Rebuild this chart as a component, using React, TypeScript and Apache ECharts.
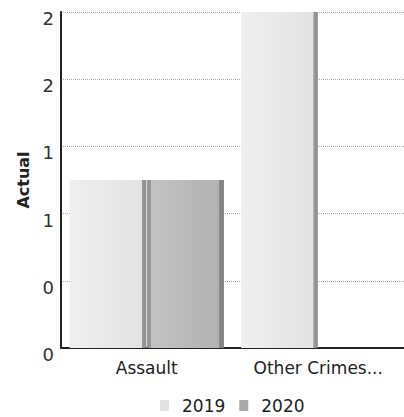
import React, { useEffect, useRef } from "react";
import * as echarts from "echarts";

const categories = ["Assault", "Other Crimes..."];
const series2019 = [1, 2];
const series2020 = [1, 0];
const yTicks = [0, 0.4, 0.8, 1.2, 1.6, 2.0];

type Stop = { offset: number; color: string };
function grad(stops: Stop[]) {
  return new echarts.graphic.LinearGradient(0, 0, 1, 0, stops);
}

export default function App() {
  const ref = useRef<HTMLDivElement>(null);
  useEffect(() => {
    if (!ref.current) return;
    const chart = echarts.init(ref.current, undefined, { renderer: "svg" });
    const font = "DejaVu Sans";
    chart.setOption({
      animation: false,
      backgroundColor: "#ffffff",
      textStyle: { fontFamily: font },
      grid: { left: 61, right: 0, top: 12, bottom: 69 },
      legend: {
        top: 392,
        left: 155,
        itemWidth: 9,
        itemHeight: 11,
        itemGap: 14,
        icon: "rect",
        textStyle: { fontFamily: font, fontSize: 17, color: "#222", padding: [0, 0, 0, 8] },
        data: [
          { name: "2019", itemStyle: { color: "#e2e2e2" } },
          { name: "2020", itemStyle: { color: "#a9a9a9" } },
        ],
      },
      xAxis: {
        type: "category",
        data: categories,
        axisLine: { lineStyle: { color: "#222", width: 2 } },
        axisTick: { show: false },
        axisLabel: { fontFamily: font, fontSize: 17, color: "#222", margin: 11, interval: 0 },
      },
      yAxis: {
        type: "value",
        min: yTicks[0],
        max: yTicks[yTicks.length - 1],
        interval: 0.4,
        name: "Actual",
        nameLocation: "middle",
        nameGap: 27,
        nameTextStyle: { fontFamily: font, fontSize: 16, fontWeight: "bold", color: "#222" },
        axisLine: { show: true, lineStyle: { color: "#222", width: 2 } },
        axisTick: { show: false },
        axisLabel: {
          fontFamily: font,
          fontSize: 18,
          color: "#333",
          margin: 7,
          verticalAlign: "top",
          lineHeight: 13,
          formatter: (v: number) => String(Math.round(v)),
        },
        splitLine: { lineStyle: { color: "#a8a8a8", type: "dotted", width: 1 } },
      },
      series: [
        {
          name: "2019",
          type: "bar",
          data: series2019,
          barGap: "1%",
          barCategoryGap: "10%",
          itemStyle: {
            color: grad([
              { offset: 0, color: "#efefef" },
              { offset: 0.94, color: "#e3e3e3" },
              { offset: 0.945, color: "#9a9a9a" },
              { offset: 1, color: "#8e8e8e" },
            ]),
          },
        },
        {
          name: "2020",
          type: "bar",
          data: series2020,
          itemStyle: {
            color: grad([
              { offset: 0, color: "#8e8e8e" },
              { offset: 0.05, color: "#999999" },
              { offset: 0.055, color: "#c2c2c2" },
              { offset: 0.93, color: "#b2b2b2" },
              { offset: 0.935, color: "#8a8a8a" },
              { offset: 1, color: "#808080" },
            ]),
          },
        },
      ],
    });
    return () => chart.dispose();
  }, []);
  return (
    <div
      ref={ref}
      style={{ position: "absolute", left: 0, top: 0, width: 404, height: 417 }}
    />
  );
}
